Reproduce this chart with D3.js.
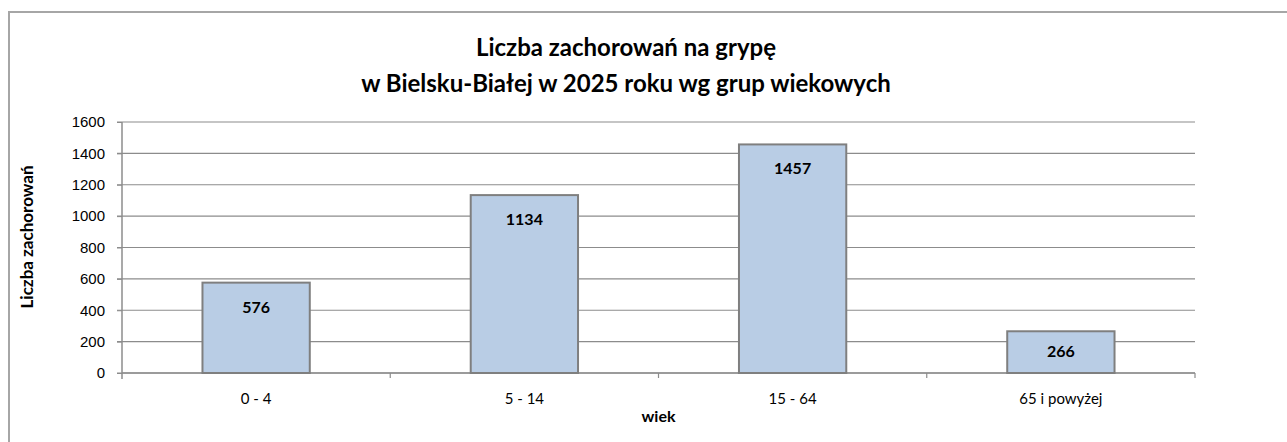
<!DOCTYPE html>
<html>
<head>
<meta charset="utf-8">
<script src="https://cdn.jsdelivr.net/npm/d3@7"></script>
<style>
  body { margin: 0; background: #fff; }
  svg { display: block; font-family: Lato, "Open Sans", sans-serif; }
</style>
</head>
<body>
<div id="chart"></div>
<script>
// data
var categories = ["0 - 4", "5 - 14", "15 - 64", "65 i powyżej"];
var values = [576, 1134, 1457, 266];
var yTicks = [0, 200, 400, 600, 800, 1000, 1200, 1400, 1600];
var titleLines = ["Liczba zachorowań na grypę", "w Bielsku-Białej w 2025 roku wg grup wiekowych"];

var width = 1287, height = 442;
var margin = {top: 122, right: 92, bottom: 69, left: 122},
    w = width - margin.left - margin.right,
    h = height - margin.top - margin.bottom;

var svg = d3.select("#chart")
    .append("svg")
    .attr("width", width)
    .attr("height", height);

// outer chart frame (only top and left show in the window)
svg.append("rect")
    .attr("x", 9).attr("y", 12)
    .attr("width", width + 20).attr("height", height + 20)
    .attr("fill", "none")
    .attr("stroke", "#a6a6a6")
    .attr("stroke-width", 2);

var g = svg.append("g")
    .attr("transform", "translate(" + margin.left + "," + margin.top + ")");

var x = d3.scaleBand()
    .domain(categories)
    .range([0, w])
    .paddingInner(0.6)
    .paddingOuter(0.3);

var y = d3.scaleLinear()
    .domain([0, 1600])
    .range([h, 0]);

// gridlines
g.append("g")
    .selectAll("line")
    .data(yTicks)
    .join("line")
    .attr("x1", -5).attr("x2", w)
    .attr("y1", function(d) { return y(d); })
    .attr("y2", function(d) { return y(d); })
    .attr("stroke", "#8c8c8c")
    .attr("stroke-width", 1.2);

// Y axis
var yAxis = g.append("g")
    .call(d3.axisLeft(y).tickValues(yTicks).tickFormat(d3.format("d")).tickSize(5).tickPadding(12));
yAxis.select(".domain").attr("stroke", "#8c8c8c").attr("stroke-width", 1.5)
    .attr("d", "M0,0V" + (h + 6));
yAxis.selectAll(".tick line").attr("stroke", "#8c8c8c");
yAxis.selectAll("text").style("font-size", "15px").attr("fill", "#000");

// X axis with ticks between categories
var step = w / categories.length;
var xAxis = g.append("g")
    .attr("transform", "translate(0," + h + ")");
xAxis.append("line")
    .attr("x1", 0).attr("x2", w)
    .attr("stroke", "#8c8c8c").attr("stroke-width", 1.5);
xAxis.selectAll(".sep")
    .data(d3.range(1, categories.length + 1))
    .join("line")
    .attr("x1", function(d) { return d * step; })
    .attr("x2", function(d) { return d * step; })
    .attr("y1", 0).attr("y2", 5)
    .attr("stroke", "#8c8c8c").attr("stroke-width", 1.2);
xAxis.selectAll("text")
    .data(categories)
    .join("text")
    .attr("x", function(d) { return x(d) + x.bandwidth() / 2; })
    .attr("y", 31)
    .attr("text-anchor", "middle")
    .style("font-size", "15px")
    .text(function(d) { return d; });

// bars
g.selectAll(".bar")
    .data(values)
    .join("rect")
    .attr("class", "bar")
    .attr("x", function(d, i) { return x(categories[i]); })
    .attr("y", function(d) { return y(d); })
    .attr("width", x.bandwidth())
    .attr("height", function(d) { return h - y(d); })
    .attr("fill", "#b9cde5")
    .attr("stroke", "#7f7f7f")
    .attr("stroke-width", 2);

// value labels
g.selectAll(".lbl")
    .data(values)
    .join("text")
    .attr("class", "lbl")
    .attr("x", function(d, i) { return x(categories[i]) + x.bandwidth() / 2; })
    .attr("y", function(d) { return Math.min(y(d) + 30, (y(d) + h) / 2 + 5); })
    .attr("text-anchor", "middle")
    .style("font-size", "16px")
    .style("font-weight", "bold")
    .text(function(d) { return d; });

// title
svg.append("text")
    .attr("text-anchor", "middle")
    .style("font-size", "24px")
    .style("font-weight", "bold")
    .selectAll("tspan")
    .data(titleLines)
    .join("tspan")
    .attr("x", 626)
    .attr("y", function(d, i) { return 56 + i * 36; })
    .text(function(d) { return d; });

// axis titles
svg.append("text")
    .attr("transform", "translate(33,237) rotate(-90)")
    .attr("text-anchor", "middle")
    .style("font-size", "17px")
    .style("font-weight", "bold")
    .text("Liczba zachorowań");

svg.append("text")
    .attr("x", margin.left + w / 2)
    .attr("y", 422)
    .attr("text-anchor", "middle")
    .style("font-size", "16px")
    .style("font-weight", "bold")
    .text("wiek");
</script>
</body>
</html>
